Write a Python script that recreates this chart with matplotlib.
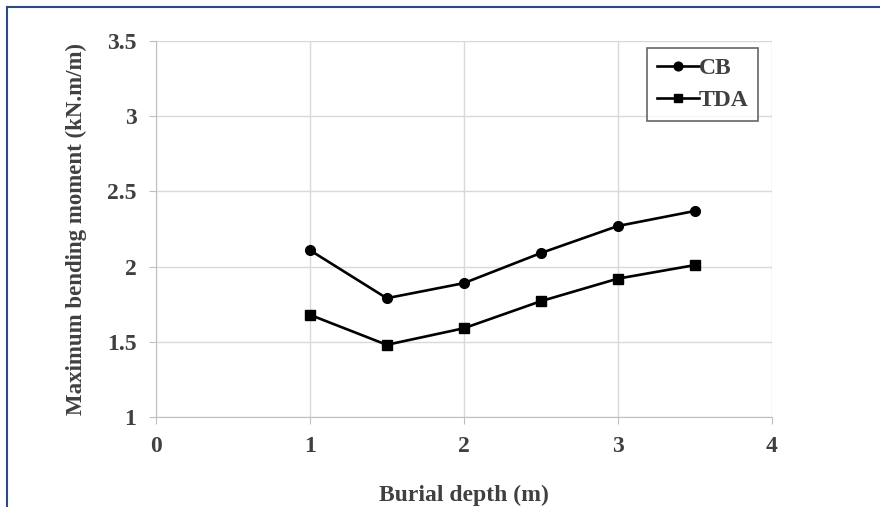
import matplotlib
matplotlib.use("Agg")
import matplotlib.pyplot as plt
from matplotlib.lines import Line2D

depth = [1, 1.5, 2, 2.5, 3, 3.5]
cb = [2.11, 1.79, 1.89, 2.09, 2.27, 2.37]
tda = [1.68, 1.48, 1.59, 1.77, 1.92, 2.01]
xticks = [0, 1, 2, 3, 4]
yticks = [1, 1.5, 2, 2.5, 3, 3.5]
ytick_labels = ["1", "1.5", "2", "2.5", "3", "3.5"]

plt.rcParams['font.family'] = 'Liberation Serif'
plt.rcParams['font.weight'] = 'bold'

fig = plt.figure(figsize=(8.8, 5.07), dpi=100)
ax = fig.add_axes([0.177, 0.1775, 0.7, 0.7415])

ax.plot(depth, cb, color='black', lw=1.9, marker='o', ms=7, label='CB')
ax.plot(depth, tda, color='black', lw=1.9, marker='s', ms=7, label='TDA')

ax.set_xlim(0, 4)
ax.set_ylim(1, 3.5)
ax.set_xticks(xticks)
ax.set_yticks(yticks)
ax.set_yticklabels(ytick_labels)
ax.grid(True, color='#d9d9d9', lw=1)
ax.set_axisbelow(True)
for s in ['top', 'right']:
    ax.spines[s].set_visible(False)
for s in ['left', 'bottom']:
    ax.spines[s].set_color('#bfbfbf')
ax.tick_params(colors='#bfbfbf', labelcolor='#404040', labelsize=17, length=5)
ax.tick_params(axis='x', pad=9)
ax.tick_params(axis='y', pad=9)

ax.set_xlabel('Burial depth (m)', fontsize=17, fontweight='bold', color='#404040', labelpad=20)
ax.set_ylabel('Maximum bending moment (kN.m/m)', fontsize=16.5, fontweight='bold',
              color='#404040', labelpad=14)

leg = ax.legend(loc='upper right', bbox_to_anchor=(0.978, 0.981), fontsize=17,
                frameon=True, fancybox=False, handlelength=1.8, labelspacing=0.45,
                borderpad=0.4, handletextpad=0.0, borderaxespad=0, markerscale=0.9)
leg.get_frame().set_edgecolor('#404040')
leg.get_frame().set_linewidth(1.2)
for t in leg.get_texts():
    t.set_color('#404040')

# outer frame lines
fig.add_artist(Line2D([0.008, 1], [0.986, 0.986], color='#2e4a86', lw=1.5))
fig.add_artist(Line2D([0.008, 0.008], [0, 0.986], color='#2e4a86', lw=1.5))

fig.savefig('out.png', dpi=100)
